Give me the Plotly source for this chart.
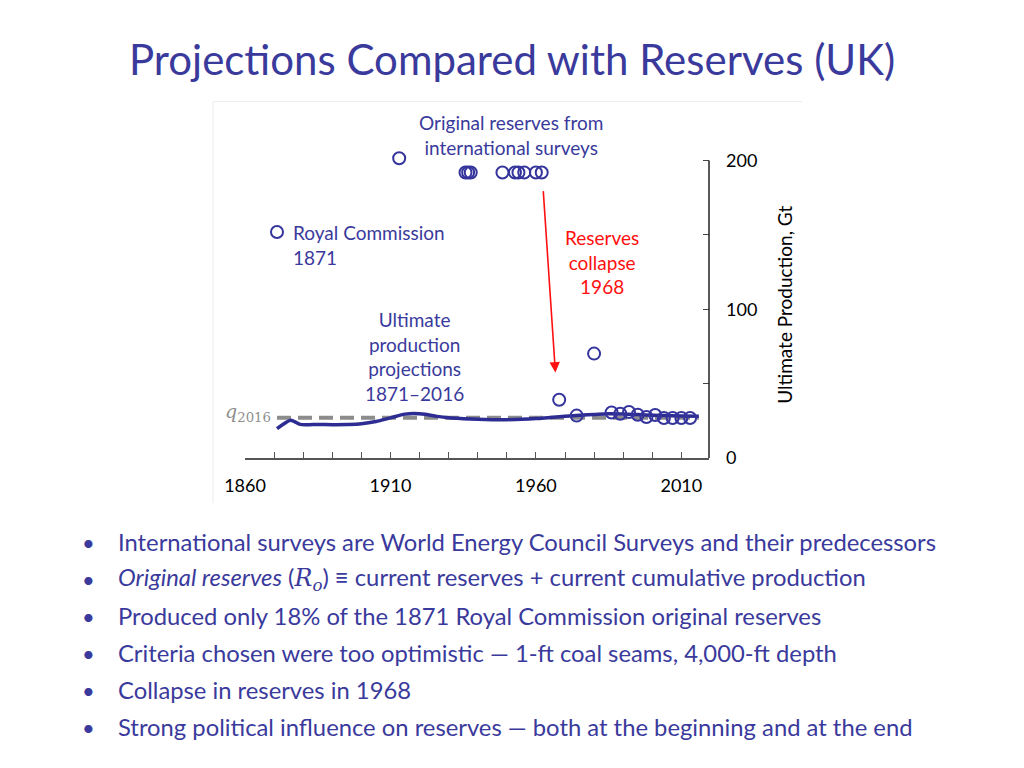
import plotly.graph_objects as go

# ---------------- data ----------------
survey_years = [1913, 1935.8, 1936.7, 1937.6, 1948.5, 1952.8, 1954, 1956, 1960, 1962,
                1968, 1974, 1980, 1986, 1989, 1992, 1995, 1998, 2001, 2004, 2007, 2010, 2013]
survey_values = [201.6, 192, 192, 192, 192, 192, 192, 192, 192, 192,
                 39.2, 28.5, 70.2, 30.6, 29.8, 30.9, 29.1, 27.6, 28.9, 26.9, 26.9, 26.9, 26.9]

royal_years = [1871]
royal_values = [152]

proj_years = [1871, 1873, 1875.5, 1877, 1879, 1882, 1885, 1890, 1895, 1900, 1905, 1910, 1915,
              1918, 1922, 1926, 1930, 1935, 1940, 1945, 1950, 1955, 1960, 1965, 1970, 1975,
              1980, 1985, 1990, 1995, 2000, 2005, 2010, 2016]
proj_values = [19.8, 22.5, 25.3, 24.5, 22.6, 22.4, 22.6, 22.4, 22.5, 23.0, 24.5, 27.0, 29.5,
               30.0, 29.4, 28.0, 27.0, 26.4, 26.0, 25.8, 25.8, 26.0, 26.5, 27.3, 28.0, 28.7,
               29.3, 29.8, 29.6, 29.2, 28.8, 28.5, 28.2, 28.0]

q2016_years = [1871, 2016]
q2016_values = [27, 27]

x_tick_vals = [1860, 1910, 1960, 2010]
x_tick_text = ["1860", "1910", "1960", "2010"]
x_minor_vals = [1870, 1880, 1890, 1900, 1920, 1930, 1940, 1950, 1970, 1980, 1990, 2000]
y_tick_vals = [0, 100, 200]
y_tick_text = ["0", "100", "200"]
y_minor_vals = [50, 150]
y_axis_max = 200      # drawn axis line extent
y_view_max = 230      # headroom so the 1913 survey point stays visible

bullets = [
    "International surveys are World Energy Council Surveys and their predecessors",
    "<i>Original reserves</i> (<span style=\"font-family:'DejaVu Serif'\"><i>R</i><sub><i>o</i></sub></span>) \u2261 current reserves + current cumulative production",
    "Produced only 18% of the 1871 Royal Commission original reserves",
    "Criteria chosen were too optimistic \u2014 1-ft coal seams, 4,000-ft depth",
    "Collapse in reserves in 1968",
    "Strong political influence on reserves \u2014 both at the beginning and at the end",
]

# ---------------- layout helpers ----------------
OFF = 8                      # page body margin
W, H = 1024 - 2 * OFF, 768 - 2 * OFF
L, R, B = 245, 709, 458      # plot area in screen pixels
Y200 = 161                   # screen y of value 200
T = B - y_view_max * (B - Y200) / 200.0
FONT = "Lato"
BLUE = "#3a3a9c"
LINE_BLUE = "#2c2c92"
RED = "#ff1010"


def px(x):
    return (x - L) / (R - L)


def py(y):
    return (B - y) / (B - T)


fig = go.Figure()

fig.add_trace(go.Scatter(
    x=q2016_years, y=q2016_values, mode="lines",
    line=dict(color="#8c8c8c", width=4, dash="14px,7px"),
    hoverinfo="skip", showlegend=False))

fig.add_trace(go.Scatter(
    x=proj_years, y=proj_values, mode="lines",
    line=dict(color=LINE_BLUE, width=3.5, shape="spline", smoothing=1.0),
    showlegend=False))

fig.add_trace(go.Scatter(
    x=survey_years, y=survey_values, mode="markers",
    marker=dict(symbol="circle-open", size=12, color="#34349c", line=dict(width=2)),
    showlegend=False))

fig.add_trace(go.Scatter(
    x=royal_years, y=royal_values, mode="markers",
    marker=dict(symbol="circle-open", size=12, color="#34349c", line=dict(width=2)),
    showlegend=False))

annotations = []

# title
annotations.append(dict(
    xref="paper", yref="paper", x=px(512), y=py(60), xanchor="center", yanchor="middle",
    text="Projections Compared with Reserves (UK)", showarrow=False,
    font=dict(family=FONT, size=42, color=BLUE)))

# y-axis title
annotations.append(dict(
    xref="paper", yref="paper", x=px(785), y=py(305), xanchor="center", yanchor="middle",
    text="Ultimate Production, Gt", textangle=-90, showarrow=False,
    font=dict(family=FONT, size=19, color="black")))

# chart text blocks
CH = 19
annotations.append(dict(
    xref="paper", yref="paper", x=px(511), y=py(135.5), xanchor="center", yanchor="middle",
    text="Original reserves from<br>international surveys", showarrow=False, align="center",
    font=dict(family=FONT, size=CH, color=BLUE)))
annotations.append(dict(
    xref="paper", yref="paper", x=px(291), y=py(245.5), xanchor="left", yanchor="middle",
    text="Royal Commission<br>1871", showarrow=False, align="left",
    font=dict(family=FONT, size=CH, color=BLUE)))
annotations.append(dict(
    xref="paper", yref="paper", x=px(414), y=py(356.5), xanchor="center", yanchor="middle",
    text="Ultimate<br>production<br>projections<br>1871\u20132016", showarrow=False, align="center",
    font=dict(family=FONT, size=CH, color=BLUE)))
annotations.append(dict(
    xref="paper", yref="paper", x=px(602), y=py(262), xanchor="center", yanchor="middle",
    text="Reserves<br>collapse<br>1968", showarrow=False, align="center",
    font=dict(family=FONT, size=CH, color=RED)))
annotations.append(dict(
    xref="paper", yref="paper", x=px(273), y=py(413), xanchor="right", yanchor="middle",
    text="<i>q</i><sub>2016</sub>", showarrow=False,
    font=dict(family="DejaVu Serif", size=19, color="#8f8f8f")))

# red arrow
annotations.append(dict(
    x=1966.7, y=57.5, ax=1962.5, ay=180.5, xref="x", yref="y", axref="x", ayref="y",
    text="", showarrow=True, arrowhead=2, arrowsize=1.3, arrowwidth=1.6, arrowcolor=RED))

# bullets
bullet_y = [542, 579, 616, 653, 690, 727]
for yy, txt in zip(bullet_y, bullets):
    annotations.append(dict(
        xref="paper", yref="paper", x=px(88), y=py(yy), xanchor="center", yanchor="middle",
        text="\u2022", showarrow=False, font=dict(family=FONT, size=22, color=BLUE)))
    annotations.append(dict(
        xref="paper", yref="paper", x=px(115.5), y=py(yy), xanchor="left", yanchor="middle",
        text=txt, showarrow=False, font=dict(family=FONT, size=23.8, color=BLUE)))

shapes = [
    dict(type="line", xref="paper", yref="paper", x0=px(213), x1=px(802), y0=py(102), y1=py(102),
         line=dict(color="#ececec", width=1)),
    dict(type="line", xref="paper", yref="paper", x0=px(213), x1=px(213), y0=py(102), y1=py(503),
         line=dict(color="#ececec", width=1)),
    # right-hand y-axis line, drawn only from 0 to 200
    dict(type="line", xref="paper", yref="y", x0=1, x1=1, y0=0, y1=y_axis_max,
         line=dict(color="#222222", width=1.5)),
]

fig.update_layout(
    width=W, height=H,
    margin=dict(l=L - OFF, r=W - (R - OFF), t=T - OFF, b=H - (B - OFF), pad=0),
    paper_bgcolor="white", plot_bgcolor="white",
    showlegend=False,
    annotations=annotations,
    shapes=shapes,
    font=dict(family=FONT, color="black"),
    xaxis=dict(
        range=[1860, 2019.5], automargin=False,
        showgrid=False, zeroline=False,
        showline=True, linecolor="#555555", linewidth=1.5,
        ticks="inside", ticklen=6, tickwidth=1.2, tickcolor="#555555",
        tickmode="array", tickvals=x_tick_vals, ticktext=x_tick_text,
        minor=dict(ticks="inside", ticklen=6, tickwidth=1.2, tickcolor="#555555",
                   tickmode="array", tickvals=x_minor_vals),
        tickfont=dict(family=FONT, size=18, color="black"),
        ticklabelstandoff=11,
    ),
    yaxis=dict(
        range=[0, y_view_max], side="right", automargin=False,
        showgrid=False, zeroline=False, showline=False,
        ticks="inside", ticklen=6, tickwidth=1.2, tickcolor="#444444",
        tickmode="array", tickvals=y_tick_vals, ticktext=y_tick_text,
        minor=dict(ticks="inside", ticklen=6, tickwidth=1.2, tickcolor="#444444",
                   tickmode="array", tickvals=y_minor_vals),
        tickfont=dict(family=FONT, size=18, color="black"),
        ticklabelstandoff=16,
    ),
)

fig.write_html("out.html")
